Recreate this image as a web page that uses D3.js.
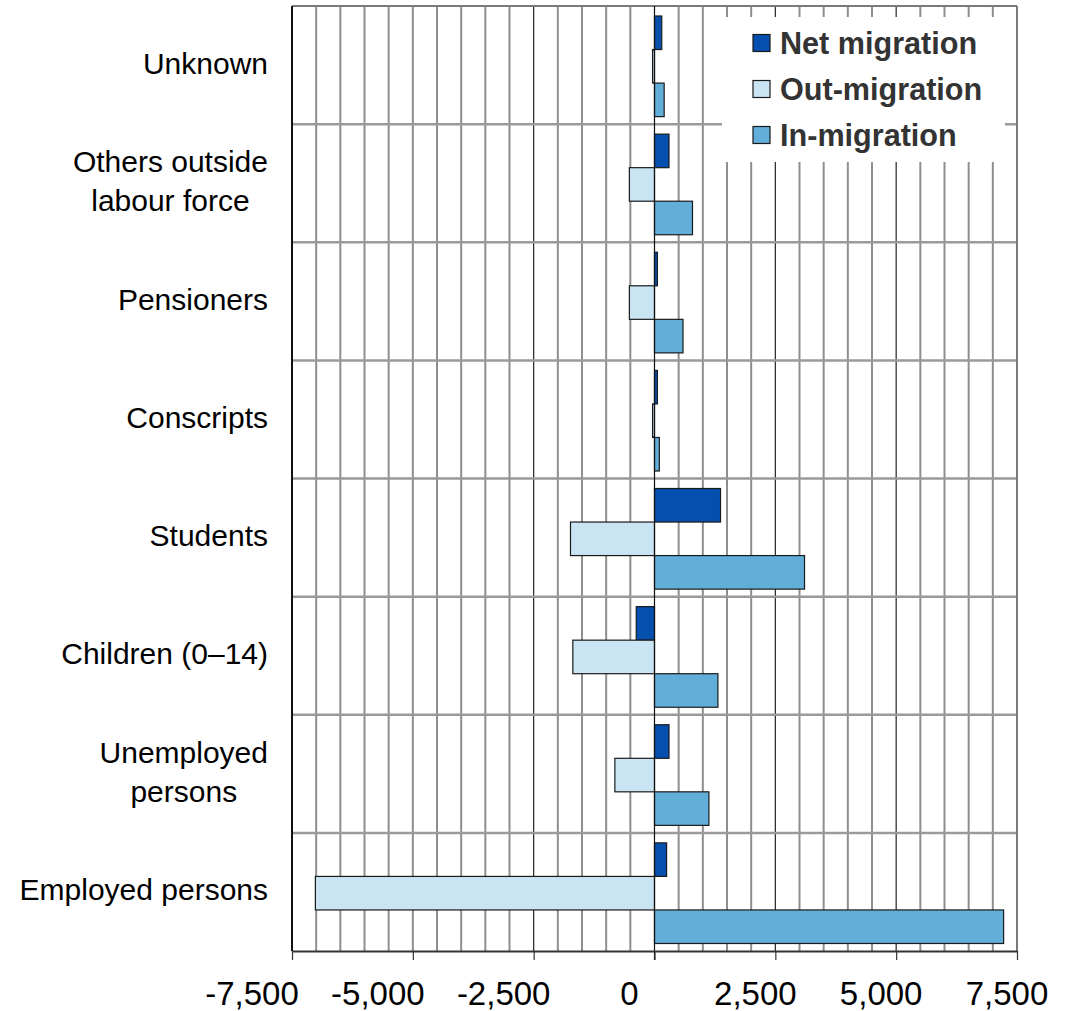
<!DOCTYPE html>
<html>
<head>
<meta charset="utf-8">
<script src="https://cdn.jsdelivr.net/npm/d3@7"></script>
<style>
  html, body { margin: 0; padding: 0; background: #fff; }
  svg { display: block; font-family: "Liberation Sans", Arial, sans-serif; }
</style>
</head>
<body>
<svg id="chart" width="1073" height="1011"></svg>
<script>
// ---- data (top to bottom) ----
const categories = ["Unknown", "Others outside\nlabour force", "Pensioners", "Conscripts",
  "Students", "Children (0–14)", "Unemployed\npersons", "Employed persons"];
const seriesNames = ["Net migration", "Out-migration", "In-migration"];
const netMigration = [150, 300, 60, 60, 1366, -378, 300, 250];
const outMigration = [-40, -520, -520, -40, -1738, -1690, -820, -7016];
const inMigration = [200, 786, 590, 100, 3104, 1312, 1126, 7223];
const tickValues = [-7500, -5000, -2500, 0, 2500, 5000, 7500];
const colors = ["#0550ae", "#c9e4f3", "#61afd9"];

(function () {
const series = [netMigration, outMigration, inMigration];

const svg = d3.select("#chart");
const pLeft = 292, pRight = 1017, pTop = 6, pBottom = 951;

const x = d3.scaleLinear().domain([-7500, 7500]).range([pLeft, pRight]);
// tick labels in the reference are spread slightly differently from the ticks
const xLabel = d3.scaleLinear().domain([-7500, 7500]).range([251.5, 1006.5]);
const y = d3.scaleBand().domain(categories).range([pTop, pBottom]).padding(0);
const yInner = d3.scaleBand().domain(seriesNames).range([10, y.bandwidth() - 7.5]).padding(0);

// grid: vertical minor lines
const minor = d3.range(-7000, 7001, 500).filter(v => v % 2500 !== 0);
svg.append("g").selectAll("line").data(minor).join("line")
  .attr("x1", d => x(d)).attr("x2", d => x(d))
  .attr("y1", pTop).attr("y2", pBottom)
  .attr("stroke", "#8e8e8e").attr("stroke-width", 2);
const major = [-5000, -2500, 2500, 5000];
svg.append("g").selectAll("line").data(major).join("line")
  .attr("x1", d => x(d)).attr("x2", d => x(d))
  .attr("y1", pTop).attr("y2", pBottom)
  .attr("stroke", d => d === -5000 ? "#8e8e8e" : "#222")
  .attr("stroke-width", d => d === -5000 ? 2 : 1.2);

// horizontal band separators
const seps = categories.slice(1).map(c => y(c));
svg.append("g").selectAll("line").data(seps).join("line")
  .attr("x1", pLeft).attr("x2", pRight)
  .attr("y1", d => d).attr("y2", d => d)
  .attr("stroke", "#9a9a9a").attr("stroke-width", 2.5);

// top border
svg.append("line").attr("x1", pLeft).attr("x2", pRight).attr("y1", pTop).attr("y2", pTop)
  .attr("stroke", "#7a7a7a").attr("stroke-width", 2);
// right border
svg.append("line").attr("x1", pRight).attr("x2", pRight).attr("y1", pTop).attr("y2", pBottom)
  .attr("stroke", "#7a7a7a").attr("stroke-width", 2);

// legend background (covers grid)
svg.append("rect").attr("x", 722).attr("y", 17).attr("width", 283).attr("height", 145)
  .attr("fill", "#fff");

// bars
const barG = svg.append("g");
series.forEach((vals, si) => {
  barG.append("g").selectAll("rect").data(vals.map((v, i) => ({ v, c: categories[i] }))).join("rect")
    .attr("x", d => x(Math.min(0, d.v)))
    .attr("width", d => Math.abs(x(d.v) - x(0)))
    .attr("y", d => y(d.c) + yInner(seriesNames[si]))
    .attr("height", yInner.bandwidth())
    .attr("fill", colors[si])
    .attr("stroke", "#1a1a1a").attr("stroke-width", 1.2);
});

// zero line
svg.append("line").attr("x1", x(0)).attr("x2", x(0)).attr("y1", pTop).attr("y2", pBottom + 9)
  .attr("stroke", "#111").attr("stroke-width", 1.2);
// left border
svg.append("line").attr("x1", pLeft).attr("x2", pLeft).attr("y1", pTop).attr("y2", pBottom)
  .attr("stroke", "#111").attr("stroke-width", 2);

// x axis
const fmt = d3.formatLocale({ decimal: ".", thousands: ",", grouping: [3], currency: ["", ""], minus: "-" }).format(",");
const axis = svg.append("g").attr("transform", `translate(0,${pBottom})`)
  .call(d3.axisBottom(x).tickValues(tickValues).tickFormat(fmt).tickSize(9).tickSizeOuter(0).tickPadding(22));
axis.select(".domain").attr("stroke", "#333").attr("stroke-width", 2);
axis.selectAll(".tick line").attr("stroke", "#333").attr("stroke-width", 1.2);
axis.selectAll(".tick text").attr("font-size", 33).attr("fill", "#000")
  .attr("font-family", "'Liberation Sans', Arial, sans-serif")
  .attr("x", d => xLabel(d) - x(d));

// category labels
const labelRight = 268;
const lineH = 39;
categories.forEach(c => {
  const lines = c.split("\n");
  const g = svg.append("g");
  const cy = y(c) + y.bandwidth() / 2 - 2;
  const texts = lines.map((ln, i) => g.append("text")
    .attr("font-size", 30).attr("fill", "#000")
    .attr("y", cy + (i - (lines.length - 1) / 2) * lineH)
    .attr("dy", "0.35em")
    .text(ln));
  const widths = texts.map(t => t.node().getComputedTextLength());
  const maxW = Math.max(...widths);
  const center = labelRight - maxW / 2;
  texts.forEach(t => t.attr("x", center).attr("text-anchor", "middle"));
});

// legend
const legend = svg.append("g");
seriesNames.forEach((s, i) => {
  const ly = 43 + i * 46;
  legend.append("rect").attr("x", 753).attr("y", ly - 8.5).attr("width", 17).attr("height", 17)
    .attr("fill", colors[i]).attr("stroke", "#1a1a1a").attr("stroke-width", 1.2);
  legend.append("text").attr("x", 780).attr("y", ly).attr("dy", "0.36em")
    .attr("font-size", 30.6).attr("font-weight", "bold").attr("fill", "#333")
    .text(s);
});
})();
</script>
</body>
</html>
